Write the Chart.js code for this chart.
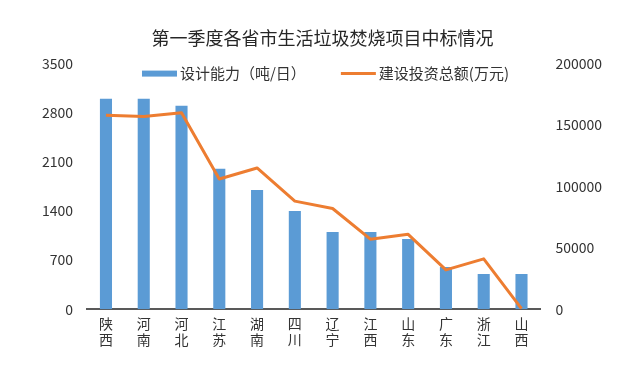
<!DOCTYPE html>
<html>
<head>
<meta charset="utf-8">
<script src="https://cdn.jsdelivr.net/npm/chart.js@4.4.0/dist/chart.umd.min.js"></script>
<style>
  html, body { margin: 0; padding: 0; background: #ffffff; }
  #wrap { width: 640px; height: 378px; }
</style>
</head>
<body>
<div id="wrap"><canvas id="myChart"></canvas></div>
<script>
var provinces = [["陕", "西"], ["河", "南"], ["河", "北"], ["江", "苏"], ["湖", "南"], ["四", "川"],
                 ["辽", "宁"], ["江", "西"], ["山", "东"], ["广", "东"], ["浙", "江"], ["山", "西"]];
var capacity = [3000, 3000, 2900, 2000, 1700, 1400, 1100, 1100, 1000, 600, 500, 500];
var investment = [158000, 157000, 160000, 106000, 115000, 88000, 82000, 57000, 61000, 32000, 41000, 500];
var capacityMax = 3500, capacityStep = 700;
var investmentMax = 200000, investmentStep = 50000;

var fontFamily = "'Noto Sans CJK SC', 'Microsoft YaHei', sans-serif";
var textColor = "#333333";

// legend sits inside the plot area, just under the top tick
var insideLegend = {
    id: "insideLegend",
    afterDatasetsDraw: function (chart) {
        var ctx = chart.ctx;
        var datasets = chart.data.datasets;
        var y = chart.chartArea.top + 10;
        var swatch = 35, gap = 3, spacing = 35;
        ctx.save();
        ctx.font = "15px " + fontFamily;
        ctx.textBaseline = "middle";
        var widths = datasets.map(function (ds) {
            return swatch + gap + ctx.measureText(ds.label).width;
        });
        var total = widths.reduce(function (a, b) { return a + b; }, 0) + spacing * (datasets.length - 1);
        var x = chart.width / 2 + 5.5 - total / 2;
        datasets.forEach(function (ds, i) {
            if (ds.type === "line") {
                ctx.strokeStyle = ds.borderColor;
                ctx.lineWidth = 3;
                ctx.beginPath();
                ctx.moveTo(x, y);
                ctx.lineTo(x + swatch, y);
                ctx.stroke();
            } else {
                ctx.fillStyle = ds.backgroundColor;
                ctx.fillRect(x, y - 3, swatch, 6);
            }
            ctx.fillStyle = textColor;
            ctx.fillText(ds.label, x + swatch + gap, y);
            x += widths[i] + spacing;
        });
        ctx.restore();
    }
};

function plain(value) {
    return String(value);
}

var ctx = document.getElementById("myChart");
var myChart = new Chart(ctx, {
    data: {
        labels: provinces,
        datasets: [
            {
                type: "bar",
                label: "设计能力（吨/日）",
                data: capacity,
                yAxisID: "y",
                backgroundColor: "#5B9BD5",
                borderWidth: 0,
                barPercentage: 0.32,
                categoryPercentage: 1,
                order: 1,
            },
            {
                type: "line",
                label: "建设投资总额(万元)",
                data: investment,
                yAxisID: "y1",
                borderColor: "#ED7D31",
                backgroundColor: "#ED7D31",
                borderWidth: 3,
                borderJoinStyle: "round",
                pointRadius: 0,
                tension: 0,
                order: 0,
            },
        ],
    },
    options: {
        responsive: true,
        maintainAspectRatio: false,
        animation: false,
        layout: { padding: { top: 20, left: 28, right: 23, bottom: 24 } },
        plugins: {
            legend: { display: false },
            tooltip: { enabled: false },
            title: {
                display: true,
                text: "第一季度各省市生活垃圾焚烧项目中标情况",
                color: "#262626",
                font: { family: fontFamily, size: 18, weight: "normal" },
                padding: { top: 7, bottom: 15 },
            },
        },
        scales: {
            x: {
                grid: { display: false, drawTicks: false },
                border: { display: true, color: "#595959", width: 2 },
                ticks: {
                    color: textColor,
                    padding: 7,
                    maxRotation: 0,
                    autoSkip: false,
                    font: { family: fontFamily, size: 14, lineHeight: 1.1 },
                },
            },
            y: {
                position: "left",
                min: 0,
                max: capacityMax,
                grid: { display: false, drawTicks: false },
                border: { display: false },
                ticks: {
                    stepSize: capacityStep,
                    color: textColor,
                    padding: 14,
                    callback: plain,
                    font: { family: fontFamily, size: 14 },
                },
            },
            y1: {
                position: "right",
                min: 0,
                max: investmentMax,
                grid: { display: false, drawTicks: false },
                border: { display: false },
                ticks: {
                    stepSize: investmentStep,
                    color: textColor,
                    padding: 15,
                    callback: plain,
                    font: { family: fontFamily, size: 14 },
                },
            },
        },
    },
    plugins: [insideLegend],
});
</script>
</body>
</html>
